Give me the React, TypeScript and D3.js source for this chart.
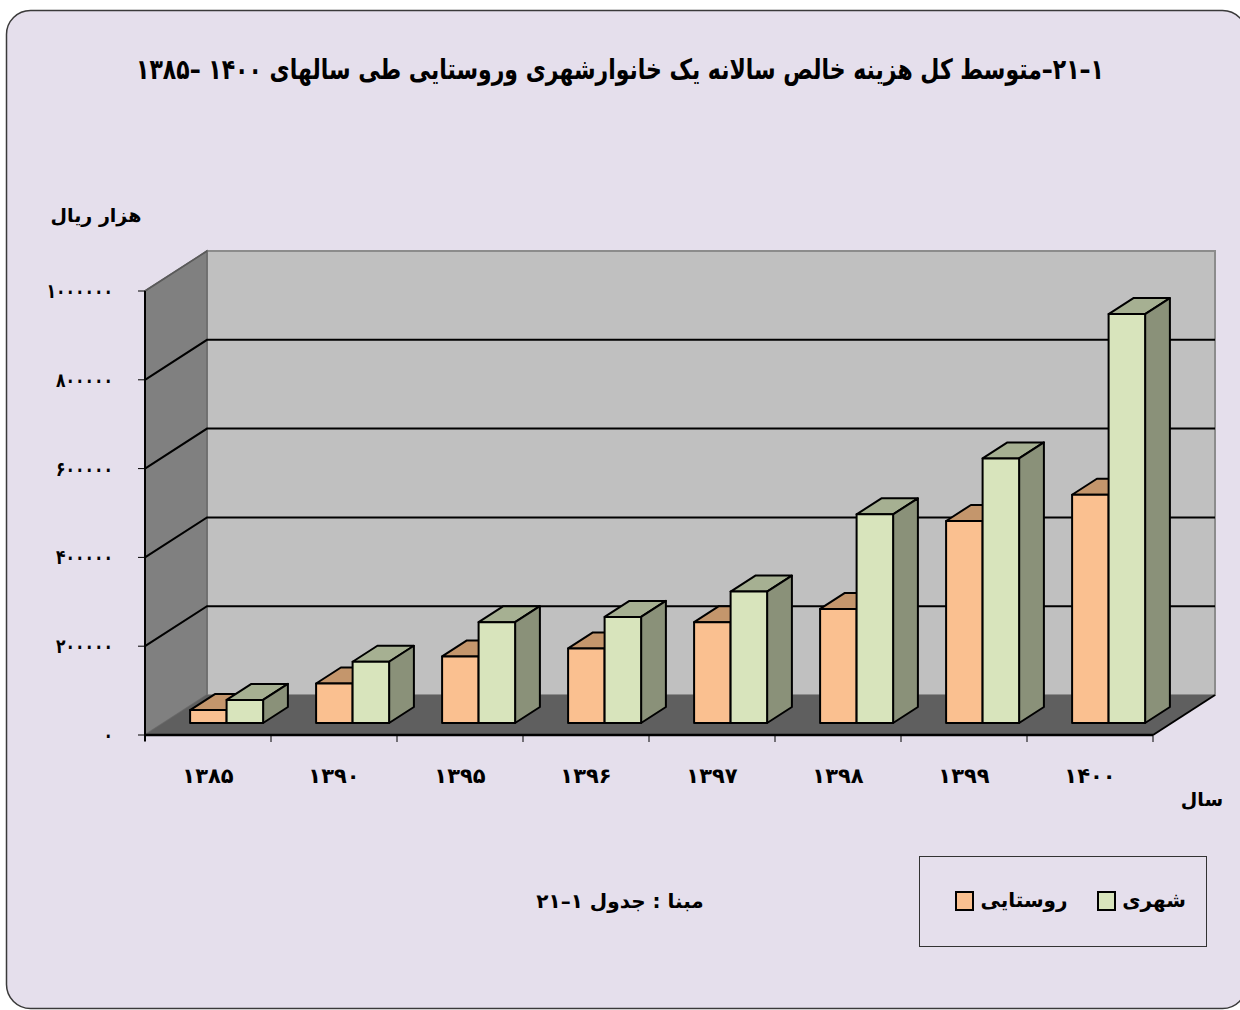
import * as d3 from 'd3'

const years = ['۱۳۸۵', '۱۳۹۰', '۱۳۹۵', '۱۳۹۶', '۱۳۹۷', '۱۳۹۸', '۱۳۹۹', '۱۴۰۰']
const rural = [29000, 89000, 150000, 168000, 227000, 257000, 455000, 514000]
const urban = [52000, 138000, 227000, 239000, 296000, 470000, 596000, 921000]
const yTicks = [0, 200000, 400000, 600000, 800000, 1000000]
const seriesNames = ['روستایی', 'شهری']

const W = 1240
const H = 1010
const FONT = '"DejaVu Sans", sans-serif'

const colors = {
  bg: '#e5dfec',
  backWall: '#c0c0c0',
  sideWall: '#808080',
  floor: '#5f5f5f',
  ruralFront: '#fac090',
  ruralTop: '#c4966c',
  ruralSide: '#a47c58',
  urbanFront: '#d8e4bc',
  urbanTop: '#a6b092',
  urbanSide: '#8a9179',
}

const toFa = (n: number) => String(n).replace(/\d/g, d => '۰۱۲۳۴۵۶۷۸۹'[+d])

export default function App() {
  // plot geometry (front plane)
  const x = d3.scaleBand<string>().domain(years).range([145, 1153]).padding(0)
  const y = d3.scaleLinear().domain([0, 1000000]).range([735, 291])
  const DX = 62
  const DY = -40

  const y0 = y(0)
  const yT = y(1000000)
  const xL = 145
  const xR = 1153

  // bars sit between 30% and 70% of depth
  const fDx = DX * 0.3
  const fDy = DY * 0.3
  const bDx = DX * 0.4
  const bDy = DY * 0.4

  const inner = d3.scaleBand<string>().domain(['rural', 'urban']).range([-36.5, 36.5])

  const pts = (a: number[][]) => a.map(p => p.join(',')).join(' ')

  const bars: JSX.Element[] = []
  years.forEach((yr, i) => {
    const cx = (x(yr) as number) + x.bandwidth() / 2 + fDx
    ;[
      { key: 'rural', v: rural[i], front: colors.ruralFront, top: colors.ruralTop, side: colors.ruralSide },
      { key: 'urban', v: urban[i], front: colors.urbanFront, top: colors.urbanTop, side: colors.urbanSide },
    ].forEach(s => {
      const bx = cx + (inner(s.key) as number)
      const bw = inner.bandwidth()
      const by = y0 + fDy
      const ty = y(s.v) + fDy
      bars.push(
        <g key={yr + s.key} stroke="#000" strokeWidth={2} strokeLinejoin="round">
          <polygon
            points={pts([[bx, ty], [bx + bw, ty], [bx + bw + bDx, ty + bDy], [bx + bDx, ty + bDy]])}
            fill={s.top}
          />
          <polygon
            points={pts([[bx + bw, ty], [bx + bw + bDx, ty + bDy], [bx + bw + bDx, by + bDy], [bx + bw, by]])}
            fill={s.side}
          />
          <rect x={bx} y={ty} width={bw} height={by - ty} fill={s.front} />
        </g>
      )
    })
  })

  return (
    <svg
      width={W}
      height={H}
      style={{ position: 'absolute', left: 0, top: 0, background: '#fff' }}
      fontFamily={FONT}
    >
      <rect x={6.5} y={10.5} width={1240} height={998} rx={24} fill={colors.bg} stroke="#3a3a3a" strokeWidth={1.5} />

      <g transform="translate(620,0) scale(0.785,1)">
        <text x={0} y={79} fontSize={28} fontWeight="bold" textAnchor="middle" direction="rtl">
          ۱–۲۱–متوسط کل هزینه خالص سالانه یک خانوارشهری وروستایی طی سالهای ۱۴۰۰ –۱۳۸۵
        </text>
      </g>

      <text x={96} y={222} fontSize={19} fontWeight="bold" textAnchor="middle" direction="rtl">
        هزار ریال
      </text>

      {/* walls and floor */}
      <polygon
        points={pts([[xL + DX, yT + DY], [xR + DX, yT + DY], [xR + DX, y0 + DY], [xL + DX, y0 + DY]])}
        fill={colors.backWall}
        stroke="#8c8c8c"
        strokeWidth={2}
      />
      <polygon
        points={pts([[xL, yT], [xL + DX, yT + DY], [xL + DX, y0 + DY], [xL, y0]])}
        fill={colors.sideWall}
        stroke="#6a6a6a"
        strokeWidth={1.5}
      />
      <polygon
        points={pts([[xL, y0], [xL + DX, y0 + DY], [xR + DX, y0 + DY], [xR, y0]])}
        fill={colors.floor}
      />
      <line x1={xR} y1={y0} x2={xR + DX} y2={y0 + DY} stroke="#000" strokeWidth={2} />

      {/* gridlines */}
      {yTicks.filter(t => t > 0 && t < 1000000).map(t => (
        <polyline
          key={'g' + t}
          points={pts([[xL, y(t)], [xL + DX, y(t) + DY], [xR + DX, y(t) + DY]])}
          fill="none"
          stroke="#000"
          strokeWidth={2}
        />
      ))}
      <line x1={xL} y1={yT} x2={xL + DX} y2={yT + DY} stroke="#5a5a5a" strokeWidth={1.5} />

      {/* y axis */}
      <line x1={xL} y1={y0 + 6} x2={xL} y2={yT} stroke="#000" strokeWidth={2} />
      {yTicks.map(t => (
        <g key={'yt' + t}>
          <line x1={xL - 7} y1={y(t)} x2={xL} y2={y(t)} stroke="#000" strokeWidth={1} />
          <g transform={`translate(113,${y(t) + 7}) scale(0.78,1)`}>
            <text x={0} y={0} fontSize={20} fontWeight="bold" textAnchor="end">
              {toFa(t)}
            </text>
          </g>
        </g>
      ))}

      {bars}

      {/* x axis */}
      <line x1={xL} y1={y0} x2={xR} y2={y0} stroke="#000" strokeWidth={2.5} />
      {[...years.map(c => x(c) as number), xR].map((v, i) => (
        <line key={'xt' + i} x1={v} y1={y0} x2={v} y2={y0 + 7} stroke="#000" strokeWidth={1} />
      ))}
      {years.map(c => (
        <text
          key={'xl' + c}
          x={(x(c) as number) + x.bandwidth() / 2}
          y={783}
          fontSize={21}
          fontWeight="bold"
          textAnchor="middle"
        >
          {c}
        </text>
      ))}
      <text x={1202} y={806} fontSize={19} fontWeight="bold" textAnchor="middle" direction="rtl">
        سال
      </text>

      {/* source */}
      <text x={620} y={908} fontSize={20} fontWeight="bold" textAnchor="middle" direction="rtl">
        مبنا : جدول ۱–۲۱
      </text>

      {/* legend */}
      <rect x={919.5} y={856.5} width={287} height={90} fill="none" stroke="#333" strokeWidth={1} />
      <rect x={1098} y={892} width={17} height={18} fill={colors.urbanFront} stroke="#000" strokeWidth={2} />
      <text x={1154} y={907} fontSize={20} fontWeight="bold" textAnchor="middle" direction="rtl">
        {seriesNames[1]}
      </text>
      <rect x={956} y={892} width={17} height={18} fill={colors.ruralFront} stroke="#000" strokeWidth={2} />
      <text x={1024} y={907} fontSize={20} fontWeight="bold" textAnchor="middle" direction="rtl">
        {seriesNames[0]}
      </text>
    </svg>
  )
}
